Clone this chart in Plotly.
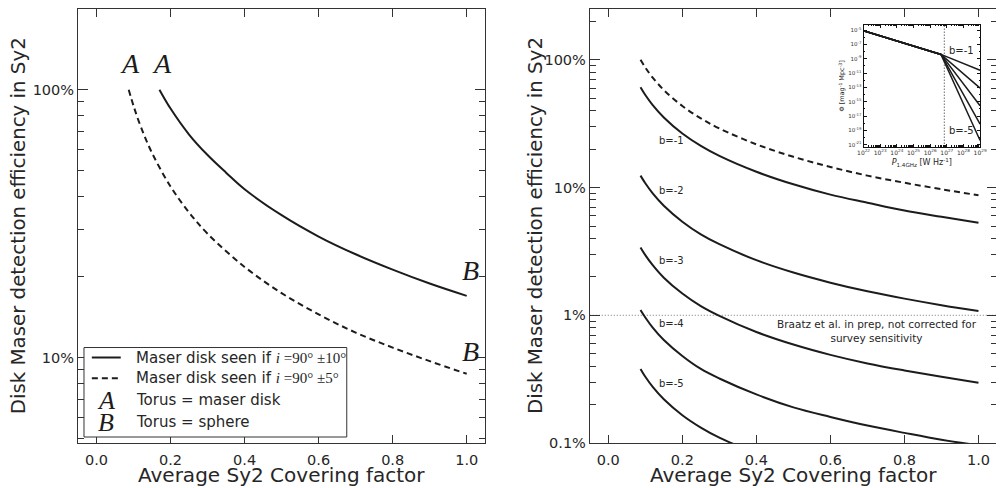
import math
import plotly.graph_objects as go

# ---------------- data ----------------
# Left panel: efficiency vs average Sy2 covering factor
cov_solid = [0.17, 0.2, 0.25, 0.3, 0.35, 0.4, 0.5, 0.6, 0.7, 0.8, 0.9, 1.0]
eff_solid = [1.00, 0.85, 0.68, 0.57, 0.49, 0.425, 0.34, 0.283, 0.243, 0.213, 0.189, 0.17]
cov_dash = [0.087, 0.1, 0.12, 0.15, 0.2, 0.25, 0.3, 0.4, 0.5, 0.6, 0.7, 0.8, 0.9, 1.0]
eff_dash = [1.00, 0.87, 0.725, 0.58, 0.435, 0.348, 0.29, 0.218, 0.174, 0.145, 0.124, 0.109, 0.097, 0.087]

# Right panel: luminosity-function slopes b
cov_b = [0.087, 0.1, 0.12, 0.15, 0.2, 0.25, 0.3, 0.4, 0.5, 0.6, 0.7, 0.8, 0.9, 1.0]
eff_b1 = [0.61, 0.53, 0.442, 0.354, 0.265, 0.212, 0.177, 0.133, 0.106, 0.088, 0.076, 0.066, 0.059, 0.053]
eff_b2 = [0.124, 0.108, 0.090, 0.072, 0.054, 0.043, 0.036, 0.027, 0.0216, 0.018, 0.0154, 0.0135, 0.012, 0.0108]
eff_b3 = [0.034, 0.0296, 0.0247, 0.0197, 0.0148, 0.0118, 0.0099, 0.0074, 0.0059, 0.0049, 0.0042, 0.0037, 0.0033, 0.00296]
eff_b4 = [0.011, 0.0096, 0.0080, 0.0064, 0.0048, 0.0038, 0.0032, 0.0024, 0.0019, 0.0016, 0.00137, 0.0012, 0.00106, 0.00096]
eff_b5 = [0.0038, 0.0033, 0.00275, 0.0022, 0.00165, 0.00132, 0.0011, 0.00083]
b_labels = ["b=-1", "b=-2", "b=-3", "b=-4", "b=-5"]
b_label_y = [0.232, 0.094, 0.0268, 0.0087, 0.0029]
braatz_level = [0.01, 0.01]

# Inset: luminosity function (log10 values)
inset_logp_start = 22.0
inset_logp_break = 26.65
inset_logp_end = 29.0
inset_logphi_start = -5.1
inset_logphi_break = -8.4
inset_logphi_end = [-10.6, -13.1, -15.55, -18.1, -20.4]
inset_dotted_logp = 26.85

x_ticks = [0.0, 0.2, 0.4, 0.6, 0.8, 1.0]
x_ticktext = ["0.0", "0.2", "0.4", "0.6", "0.8", "1.0"]

# ---------------- styling ----------------
INK = "#1c1c1c"
TXT = "#262626"
FRAME = "#333333"
FONT = "DejaVu Sans"
SERIF = "Liberation Serif"
YTITLE = "Disk Maser detection efficiency in Sy2"
XTITLE = "Average Sy2 Covering factor"

fig = go.Figure()

# left panel
fig.add_trace(go.Scatter(x=cov_solid, y=eff_solid, mode="lines", line=dict(color=INK, width=2, shape="spline"),
                         xaxis="x", yaxis="y", showlegend=False, hoverinfo="skip"))
fig.add_trace(go.Scatter(x=cov_dash, y=eff_dash, mode="lines", line=dict(color=INK, width=2, dash="6px,4px", shape="spline"),
                         xaxis="x", yaxis="y", showlegend=False, hoverinfo="skip"))

# right panel
fig.add_trace(go.Scatter(x=[-0.05, 1.05], y=braatz_level, mode="lines", line=dict(color="#777", width=1, dash="1px,2px"),
                         xaxis="x2", yaxis="y2", showlegend=False, hoverinfo="skip"))
fig.add_trace(go.Scatter(x=cov_dash, y=eff_dash, mode="lines", line=dict(color=INK, width=2, dash="6px,4px", shape="spline"),
                         xaxis="x2", yaxis="y2", showlegend=False, hoverinfo="skip"))
for ys in [eff_b1, eff_b2, eff_b3, eff_b4, eff_b5]:
    fig.add_trace(go.Scatter(x=cov_b[:len(ys)], y=ys, mode="lines", line=dict(color=INK, width=2, shape="spline"),
                             xaxis="x2", yaxis="y2", showlegend=False, hoverinfo="skip"))

# inset
fig.add_trace(go.Scatter(x=[10.0 ** inset_dotted_logp] * 2, y=[10.0 ** -21.25, 10.0 ** -4.3], mode="lines",
                         line=dict(color="#222", width=1, dash="1px,2px"),
                         xaxis="x3", yaxis="y3", showlegend=False, hoverinfo="skip"))
for le in inset_logphi_end:
    fig.add_trace(go.Scatter(x=[10.0 ** inset_logp_start, 10.0 ** inset_logp_break, 10.0 ** inset_logp_end],
                             y=[10.0 ** inset_logphi_start, 10.0 ** inset_logphi_break, 10.0 ** le],
                             mode="lines", line=dict(color=INK, width=1.5),
                             xaxis="x3", yaxis="y3", showlegend=False, hoverinfo="skip"))

# ---------------- axes ----------------
def lin_x(domain, anchor):
    return dict(domain=domain, anchor=anchor, range=[-0.05, 1.05], tickvals=x_ticks, ticktext=x_ticktext,
                ticks="inside", ticklen=8, tickcolor=FRAME, mirror="ticks", showline=True, linecolor=FRAME,
                linewidth=1, showgrid=False, zeroline=False, ticklabelstandoff=4,
                tickfont=dict(family=FONT, size=14.5, color=TXT))

def minor_vals(lo_exp, hi_exp):
    return [d * 10.0 ** e for e in range(lo_exp, hi_exp + 1) for d in range(2, 10)]

left_minor = minor_vals(-2, 0)
right_minor = minor_vals(-3, 0)

LEFT_DOM = [0, 0.4431]
RIGHT_DOM = [0.5569, 1.0]

# page body adds an 8px offset: figure is sized/margined to compensate
fig.update_layout(
    width=996, height=480,
    margin=dict(l=70, r=3, t=0, b=45),
    paper_bgcolor="white", plot_bgcolor="white",
    xaxis=lin_x(LEFT_DOM, "y"),
    yaxis=dict(domain=[0, 1], anchor="x", type="log", range=[math.log10(0.048), math.log10(2.0)],
               tickvals=[0.1, 1.0], ticktext=["10%", "100%"],
               ticks="inside", ticklen=10, tickcolor=FRAME, mirror="ticks", showline=True, linecolor=FRAME,
               linewidth=1, showgrid=False, zeroline=False,
               minor=dict(tickmode="array", tickvals=left_minor, ticks="inside", ticklen=6, tickcolor=FRAME, showgrid=False),
               tickfont=dict(family=FONT, size=14.5, color=TXT)),
    xaxis2=lin_x(RIGHT_DOM, "y2"),
    yaxis2=dict(domain=[0, 1], anchor="x2", type="log", range=[-3, math.log10(2.5)],
                tickvals=[0.001, 0.01, 0.1, 1.0], ticktext=["0.1%", "1%", "10%", "100%"],
                ticks="inside", ticklen=10, tickcolor=FRAME, mirror="ticks", showline=True, linecolor=FRAME,
                linewidth=1, showgrid=False, zeroline=False,
                minor=dict(tickmode="array", tickvals=right_minor, ticks="inside", ticklen=6, tickcolor=FRAME, showgrid=False),
                tickfont=dict(family=FONT, size=14.5, color=TXT)),
    xaxis3=dict(domain=[0.8548, 0.9816], anchor="y3", type="log", range=[22, 29],
                tickvals=[10.0 ** e for e in range(22, 30)],
                ticktext=["10<sup>%d</sup>" % e for e in range(22, 30)],
                ticks="inside", ticklen=3, tickcolor="#111", mirror="ticks", showline=True, linecolor="#111",
                linewidth=1, showgrid=False, zeroline=False,
                minor=dict(tickmode="array", tickvals=minor_vals(22, 28), ticks="inside", ticklen=1.5, tickcolor="#111"),
                tickfont=dict(family=FONT, size=6, color="#333"),
                title=dict(text="<i>P</i><sub>1.4GHz</sub> [W Hz<sup>-1</sup>]", font=dict(family=FONT, size=8, color=TXT), standoff=4)),
    yaxis3=dict(domain=[0.6828, 0.9632], anchor="x3", type="log", range=[-21.25, -4.3],
                tickvals=[10.0 ** e for e in range(-21, -4, 2)],
                ticktext=["10<sup>%d</sup>" % e for e in range(-21, -4, 2)],
                ticks="inside", ticklen=3, tickcolor="#111", mirror="ticks", showline=True, linecolor="#111",
                linewidth=1, showgrid=False, zeroline=False,
                minor=dict(tickmode="array", tickvals=[10.0 ** e for e in range(-20, -4, 2)], ticks="inside", ticklen=1.5, tickcolor="#111"),
                tickfont=dict(family=FONT, size=5.5, color="#333"),
                title=dict(text="Φ [mag<sup>-1</sup> Mpc<sup>-3</sup>]", font=dict(family=FONT, size=6.5, color=TXT), standoff=2)),
    showlegend=False,
)

annotations = []
shapes = []

# axis titles (as annotations so they are not squeezed by the margins)
for xp in [-0.0650, 0.4973]:
    annotations.append(dict(x=xp, y=0.5, xref="paper", yref="paper", text=YTITLE, textangle=-90, showarrow=False,
                            xanchor="center", yanchor="middle", font=dict(family=FONT, size=19.8, color=TXT)))
for dom in [LEFT_DOM, RIGHT_DOM]:
    annotations.append(dict(x=(dom[0] + dom[1]) / 2, y=0, xref="paper", yref="paper", text=XTITLE, showarrow=False,
                            xanchor="center", yanchor="middle", yshift=-32,
                            font=dict(family=FONT, size=20, color=TXT)))

# A / B labels on left panel
for xv, yv, t in [(0.09, 1.25, "A"), (0.176, 1.25, "A"), (1.01, 0.212, "B"), (1.01, 0.105, "B")]:
    annotations.append(dict(x=xv, y=math.log10(yv), xref="x", yref="y", text="<i>%s</i>" % t, showarrow=False,
                            font=dict(family=SERIF, size=28, color=INK)))

# manual legend in left panel
shapes.append(dict(type="rect", xref="x domain", yref="y domain", x0=0.0147, x1=0.66, y0=0.0138, y1=0.22,
                   line=dict(color=FRAME, width=1), fillcolor="white", layer="above"))
rows = [0.197, 0.149, 0.0986, 0.0482]
shapes.append(dict(type="line", xref="x domain", yref="y domain", x0=0.034, x1=0.105, y0=rows[0], y1=rows[0],
                   line=dict(color=INK, width=2), layer="above"))
shapes.append(dict(type="line", xref="x domain", yref="y domain", x0=0.034, x1=0.105, y0=rows[1], y1=rows[1],
                   line=dict(color=INK, width=2, dash="6px,4px"), layer="above"))
mt = "<span style='font-family:Liberation Serif'><i>i</i> =90° ±%s°</span>"
legend_texts = ["Maser disk seen if " + mt % "10", "Maser disk seen if " + mt % "5",
                "Torus = maser disk", "Torus = sphere"]
for r, t in zip(rows, legend_texts):
    annotations.append(dict(x=0.137, y=r, xref="x domain", yref="y domain", text=t, showarrow=False,
                            xanchor="left", yanchor="middle", font=dict(family=FONT, size=15, color=TXT)))
for r, t in zip(rows[2:], ["A", "B"]):
    annotations.append(dict(x=0.068, y=r, xref="x domain", yref="y domain", text="<i>%s</i>" % t, showarrow=False,
                            xanchor="center", yanchor="middle", font=dict(family=SERIF, size=26, color=INK)))

# b labels on right panel
for t, yv in zip(b_labels, b_label_y):
    annotations.append(dict(x=0.17, y=math.log10(yv), xref="x2", yref="y2", text=t, showarrow=False,
                            font=dict(family=FONT, size=10, color=TXT)))
annotations.append(dict(x=0.725, y=math.log10(0.0076), xref="x2", yref="y2",
                        text="Braatz et al. in prep, not corrected for<br>survey sensitivity", showarrow=False,
                        font=dict(family=FONT, size=10.5, color=TXT)))
# inset labels
annotations.append(dict(x=27.03, y=-7.9, xref="x3", yref="y3", text="b=-1", showarrow=False, xanchor="left",
                        font=dict(family=FONT, size=10, color=TXT)))
annotations.append(dict(x=27.03, y=-19.0, xref="x3", yref="y3", text="b=-5", showarrow=False, xanchor="left",
                        font=dict(family=FONT, size=10, color=TXT)))

fig.update_layout(annotations=annotations, shapes=shapes)
fig.write_html("out.html")
